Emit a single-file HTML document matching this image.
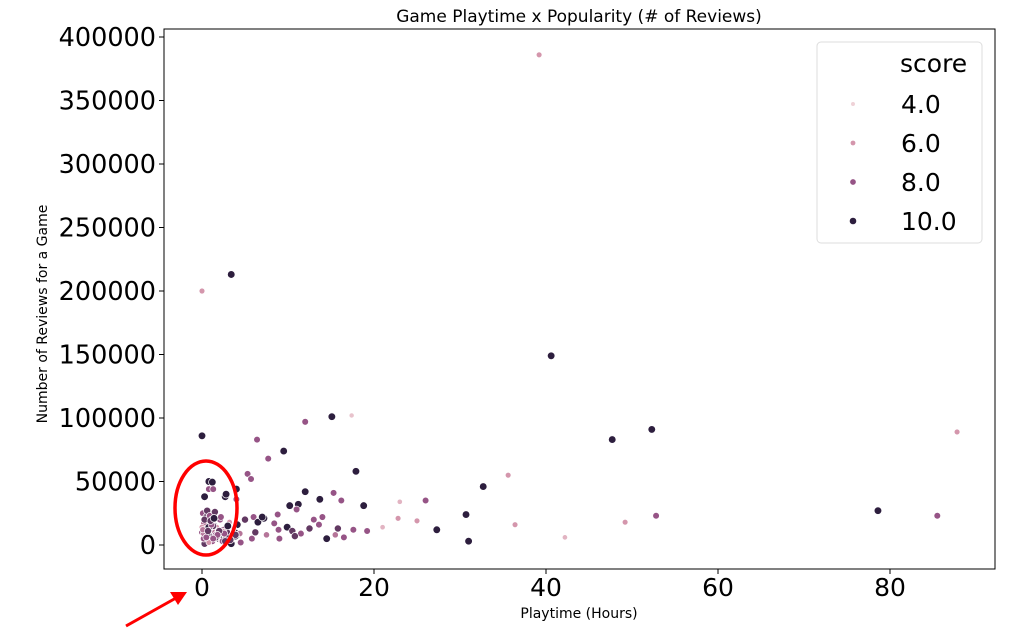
<!DOCTYPE html>
<html><head><meta charset="utf-8"><style>
body{margin:0;background:#fff;font-family:"DejaVu Sans","Liberation Sans",sans-serif}
</style></head><body>
<svg id="c" width="1018" height="630" xmlns="http://www.w3.org/2000/svg"></svg>
<script>
const hours=[39.2,3.4,0,40.6,15.1,17.4,12,0,6.4,47.7,52.3,87.8,9.5,7.7,17.9,5.3,5.7,0.8,1.2,0.8,1.3,2.7,4,4,0.3,2.8,12,15.3,32.7,35.6,11.2,10.2,11,13.7,16.2,23,26,30.7,31,27.3,36.4,42.2,49.2,52.8,78.6,85.5,22.8,25,21,14,18.8,8.4,9.9,6,7.2,8.8,13.6,17.6,19.2,
0.1,0.5,0.9,1.4,2.1,2.6,3.2,3.8,4.2,0.2,0.7,1.1,1.7,2.3,2.9,3.5,4.1,0.4,1,1.5,2,2.5,3,3.6,0.1,0.6,1.2,1.8,2.4,3.1,3.7,4.4,0.3,0.8,1.6,2.2,2.8,3.4,0.2,1.3,2.6,3.9,5,5.8,6.5,7.5,8.9,10.5,11.5,12.5,14.5,15.5,16.5,
0,0.3,0.6,0.9,1.2,1.5,1.9,2.2,0,0.4,0.8,1.1,1.6,2,0.2,0.5,1,1.4,1.8,2.4,3.3,3.9,0.1,0.7,1.3,2.7,3,4.5,6.2,9,13,10.8,7,15.8];
const reviews=[386000,213000,200000,149000,101000,102000,97000,86000,83000,83000,91000,89000,74000,68000,58000,56000,52000,50000,49500,44000,44000,38000,44000,36000,38000,40000,42000,41000,46000,55000,32000,31000,28000,36000,35000,34000,35000,24000,3000,12000,16000,6000,18000,23000,27000,23000,21000,19000,14000,22000,31000,17000,14000,22000,21000,24000,16000,12000,11000,
25000,22000,18000,15000,20000,12000,18000,10000,8000,17000,12000,9000,14000,7000,10000,6000,16000,3000,6000,10000,5000,12000,4000,8000,13000,9000,3000,7000,11000,5000,13000,9000,1000,2000,8000,3000,6000,1000,5000,15000,9000,7000,20000,5000,18000,8000,12000,11000,9000,13000,5000,8000,6000,10000,
20000,27000,23000,20000,26000,11000,22000,14000,9000,14000,16000,6000,11000,9000,6000,19000,21000,8000,3000,4000,8000,12000,11000,5000,3000,15000,2000,10000,5000,20000,7000,22000,13000,8000];
const scores=[6,10,6,10,10,4.5,8,10,8,10,10,6,10,8,10,8,8,10,10,8,8,10,10,8,10,10,10,8,10,6,10,10,8,10,8,5,8,10,10,10,6,5,6,8,10,8,6,6,5,8,10,8,10,8,10,8,8,8,8,
8,9,7,10,8,9,6,10,8,7,9,10,6,8,9,7,10,8,9,7,10,8,6,9,7,10,8,9,6,8,5,7,9,6,8,5,9,10,8,9,8,10,9,8,10,7,8,9,8,9,10,7,8,
8,9,9,8,10,9,8,8,6,9,10,8,9,9,7,8,9,10,8,8,9,9,7,9,8,9,10,8,9,8,8,9,10,9];
const xTicks=[0,20,40,60,80];
const yTicks=[0,50000,100000,150000,200000,250000,300000,350000,400000];
const legendScores=[4,6,8,10];
const X0=164,X1=995,Y0=29,Y1=569;
const xS=h=>202+h*8.6;
const yS=v=>545-v*0.00127;
const NS='http://www.w3.org/2000/svg';
const svg=document.getElementById('c');
function mk(t,a,p){const e=document.createElementNS(NS,t);for(const k in a)e.setAttribute(k,a[k]);(p||svg).appendChild(e);return e;}
function col(s){const t=Math.max(0,Math.min(1,(s-4)/6));
const stops=[[239,210,215],[212,150,172],[150,84,134],[45,30,62]];
const f=t*3,i=Math.min(2,Math.floor(f)),r=f-i;
const c=stops[i].map((v,k)=>Math.round(v+(stops[i+1][k]-v)*r));return `rgb(${c})`;}
function rad(s){return 1.6+0.22*s;}
let t=mk('text',{x:579,y:22,'text-anchor':'middle','font-size':17,fill:'#000'});t.textContent='Game Playtime x Popularity (# of Reviews)';

const g=mk('g',{});

for(let i=0;i<hours.length;i++){
 const p=mk('circle',{cx:xS(hours[i]),cy:yS(reviews[i]),r:rad(scores[i]),fill:col(scores[i]),stroke:'#fff','stroke-width':0.7},g);
 
 
}
const fr=mk('rect',{x:X0,y:Y0,width:X1-X0,height:Y1-Y0,fill:'none',stroke:'#000','stroke-width':1});

xTicks.forEach(v=>{const x=xS(v);mk('line',{x1:x,x2:x,y1:Y1,y2:Y1+5,stroke:'#000'});
 const l=mk('text',{x:x,y:596,'text-anchor':'middle','font-size':25});l.textContent=v;
 });
yTicks.forEach(v=>{const y=yS(v);mk('line',{x1:X0-5,x2:X0,y1:y,y2:y,stroke:'#000'});
 const l=mk('text',{x:156,y:y+9,'text-anchor':'end','font-size':25.5});l.textContent=v;
 });
let xl=mk('text',{x:579,y:618,'text-anchor':'middle','font-size':14});xl.textContent='Playtime (Hours)';

let yl=mk('text',{x:0,y:0,'text-anchor':'middle','font-size':14,transform:'translate(47,314) rotate(-90)'});yl.textContent='Number of Reviews for a Game';

const lg=mk('g',{});

mk('rect',{x:817,y:42,width:165,height:201,rx:4,fill:'#fff',stroke:'#ddd'},lg);
let lt=mk('text',{x:900,y:72,'font-size':25},lg);lt.textContent='score';
legendScores.forEach((s,i)=>{const y=104+i*39;
 mk('circle',{cx:853,cy:y,r:rad(s)-0.5,fill:col(s)},lg);
 const e=mk('text',{x:901,y:y+9,'font-size':25},lg);e.textContent=s.toFixed(1);
 });
const an=mk('ellipse',{cx:206,cy:508,rx:31,ry:47,fill:'none',stroke:'#f00','stroke-width':3.5});

const ar=mk('g',{});

mk('line',{x1:126,y1:626,x2:176,y2:598,stroke:'#f00','stroke-width':3},ar);
mk('polygon',{points:'187,592 170,592 178,605',fill:'#f00'},ar);
</script>
</body></html>
